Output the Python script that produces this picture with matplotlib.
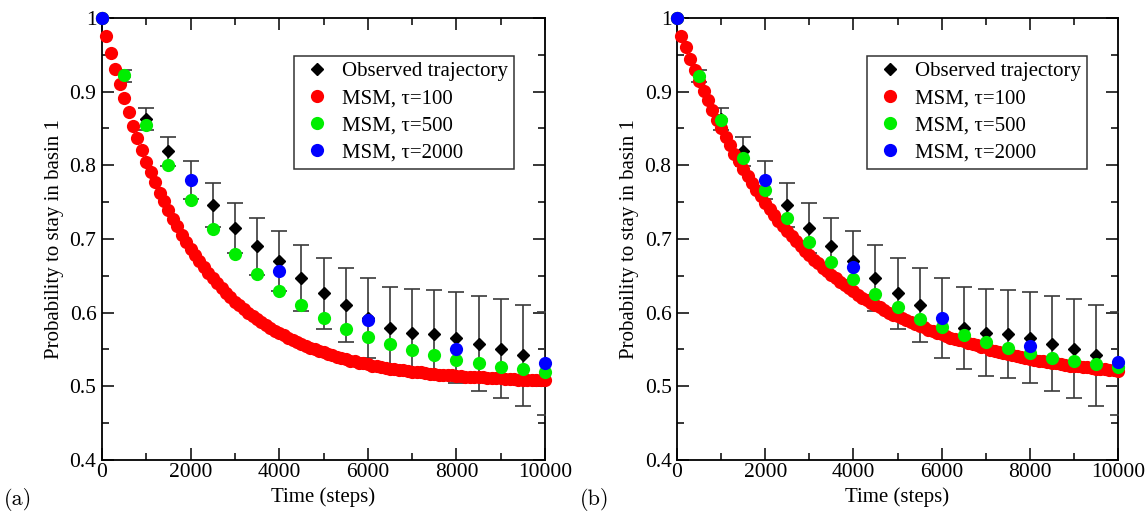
import numpy as np
import matplotlib
matplotlib.use("Agg")
import matplotlib.pyplot as plt
from matplotlib.ticker import MultipleLocator, FixedLocator


# ---------------------------------------------------------
#  Data
# ---------------------------------------------------------

# observed trajectory, sampled every 500 steps
time_obs = [0, 500, 1000, 1500, 2000, 2500, 3000, 3500, 4000, 4500, 5000,
            5500, 6000, 6500, 7000, 7500, 8000, 8500, 9000, 9500, 10000]
obs_prob = [1.000, 0.921, 0.863, 0.819, 0.780, 0.746, 0.715, 0.690, 0.670,
            0.647, 0.626, 0.610, 0.593, 0.579, 0.573, 0.571, 0.566, 0.558,
            0.551, 0.542, 0.531]
obs_err = [0.000, 0.008, 0.015, 0.020, 0.026, 0.030, 0.034, 0.039, 0.041,
           0.045, 0.048, 0.050, 0.054, 0.056, 0.059, 0.060, 0.062, 0.064,
           0.067, 0.069, 0.070]

# MSM tau=100, one point every 100 steps
time_tau100 = list(range(0, 10001, 100))
msm100_a = [
    1.000, 0.976, 0.953, 0.931, 0.910, 0.891, 0.872, 0.854, 0.837, 0.821,
    0.805, 0.791, 0.777, 0.763, 0.751, 0.739, 0.727, 0.717, 0.706, 0.696,
    0.687, 0.678, 0.670, 0.662, 0.654, 0.647, 0.640, 0.633, 0.627, 0.621,
    0.615, 0.610, 0.605, 0.600, 0.595, 0.591, 0.587, 0.583, 0.579, 0.575,
    0.572, 0.569, 0.566, 0.563, 0.560, 0.557, 0.555, 0.552, 0.550, 0.548,
    0.546, 0.544, 0.542, 0.540, 0.538, 0.537, 0.535, 0.534, 0.532, 0.531,
    0.530, 0.528, 0.527, 0.526, 0.525, 0.524, 0.523, 0.522, 0.522, 0.521,
    0.520, 0.519, 0.519, 0.518, 0.517, 0.517, 0.516, 0.516, 0.515, 0.515,
    0.514, 0.514, 0.513, 0.513, 0.512, 0.512, 0.512, 0.511, 0.511, 0.511,
    0.511, 0.510, 0.510, 0.510, 0.509, 0.509, 0.509, 0.509, 0.509, 0.509,
    0.508]
msm100_b = [
    1.000, 0.975, 0.960, 0.944, 0.929, 0.915, 0.901, 0.888, 0.875, 0.862,
    0.850, 0.838, 0.827, 0.816, 0.806, 0.795, 0.785, 0.776, 0.767, 0.758,
    0.749, 0.741, 0.733, 0.725, 0.718, 0.711, 0.704, 0.697, 0.690, 0.684,
    0.678, 0.672, 0.667, 0.661, 0.656, 0.651, 0.647, 0.642, 0.637, 0.633,
    0.629, 0.624, 0.620, 0.617, 0.613, 0.610, 0.607, 0.603, 0.600, 0.597,
    0.596, 0.593, 0.590, 0.587, 0.585, 0.582, 0.580, 0.577, 0.575, 0.573,
    0.571, 0.568, 0.566, 0.564, 0.563, 0.561, 0.559, 0.557, 0.556, 0.554,
    0.553, 0.549, 0.548, 0.546, 0.545, 0.544, 0.542, 0.541, 0.540, 0.538,
    0.537, 0.536, 0.535, 0.534, 0.533, 0.532, 0.531, 0.530, 0.529, 0.528,
    0.528, 0.527, 0.526, 0.526, 0.525, 0.524, 0.523, 0.523, 0.522, 0.522,
    0.521]

# MSM tau=500
time_tau500 = list(range(0, 10001, 500))
msm500_a = [1.000, 0.922, 0.855, 0.800, 0.753, 0.714, 0.680, 0.652, 0.629,
            0.610, 0.593, 0.578, 0.567, 0.557, 0.549, 0.542, 0.536, 0.531,
            0.526, 0.523, 0.520]
msm500_b = [1.000, 0.921, 0.862, 0.810, 0.766, 0.728, 0.696, 0.669, 0.645,
            0.625, 0.607, 0.592, 0.580, 0.569, 0.560, 0.552, 0.545, 0.539,
            0.534, 0.530, 0.526]

# MSM tau=2000
time_tau2000 = [0, 2000, 4000, 6000, 8000, 10000]
msm2000_a = [1.000, 0.780, 0.657, 0.590, 0.551, 0.531]
msm2000_b = [1.000, 0.780, 0.662, 0.593, 0.555, 0.533]

series_labels = ["Observed trajectory", "MSM, \u03c4=100",
                 "MSM, \u03c4=500", "MSM, \u03c4=2000"]
panel_labels = ["(a)", "(b)"]


# ---------------------------------------------------------
#  Plotting
# ---------------------------------------------------------

plt.rcParams["font.family"] = ["Liberation Serif", "DejaVu Serif"]


def draw_panel(ax, msm100, msm500, msm2000):
    ax.errorbar(time_obs, obs_prob, yerr=obs_err, fmt="none",
                ecolor="#3a3a3a", elinewidth=1.2, capsize=6,
                capthick=1.2, zorder=2)
    obs, = ax.plot(time_obs, obs_prob, "D", color="black", ms=6.5,
                   zorder=2.5, clip_on=False)
    red, = ax.plot(time_tau100, msm100, "o", color="#ff0000", ms=9.5,
                   mec="none", zorder=3, clip_on=False)
    green, = ax.plot(time_tau500, msm500, "o", color="#00ee00", ms=9.5,
                     mec="none", zorder=4, clip_on=False)
    blue, = ax.plot(time_tau2000, msm2000, "o", color="#0000ff", ms=9.5,
                    mec="none", zorder=5, clip_on=False)

    ax.set_xlim(0, 10000)
    ax.set_ylim(0.4, 1.0)
    ax.xaxis.set_major_locator(MultipleLocator(2000))
    ax.xaxis.set_minor_locator(MultipleLocator(1000))
    ax.yaxis.set_major_locator(FixedLocator([0.4, 0.5, 0.6, 0.7, 0.8, 0.9, 1.0]))
    ax.yaxis.set_minor_locator(MultipleLocator(0.05))
    ax.set_yticklabels(["0.4", "0.5", "0.6", "0.7", "0.8", "0.9", "1"])
    ax.tick_params(which="both", direction="in", top=True, right=True,
                   labelsize=15.5, width=1.1)
    ax.tick_params(axis="x", pad=2)
    ax.tick_params(axis="y", pad=4)
    ax.tick_params(which="major", length=8.5)
    ax.tick_params(which="minor", length=5)
    for spine in ax.spines.values():
        spine.set_linewidth(1.3)
        spine.set_zorder(1)

    ax.set_xlabel("Time (steps)", fontsize=15, labelpad=4)
    ax.set_ylabel("Probability to stay in basin 1", fontsize=15, labelpad=4)

    leg = ax.legend([obs, red, green, blue], series_labels,
                    loc="upper right", bbox_to_anchor=(0.93, 0.915),
                    fontsize=15, frameon=True, fancybox=False,
                    edgecolor="black", handletextpad=0.4, borderpad=0.3,
                    labelspacing=0.36, handlelength=1.6, borderaxespad=0)
    leg.get_frame().set_linewidth(1.1)
    leg.set_zorder(6)


fig = plt.figure(figsize=(11.46, 5.14), dpi=100)
ax_a = fig.add_axes([0.0890, 0.1051, 0.3866, 0.8599])
ax_b = fig.add_axes([0.5908, 0.1051, 0.3848, 0.8599])

draw_panel(ax_a, msm100_a, msm500_a, msm2000_a)
draw_panel(ax_b, msm100_b, msm500_b, msm2000_b)

fig.text(0.003, 0.018, panel_labels[0], fontsize=16, family="cmr10")
fig.text(0.506, 0.018, panel_labels[1], fontsize=16, family="cmr10")

fig.savefig("out.png", dpi=100)
